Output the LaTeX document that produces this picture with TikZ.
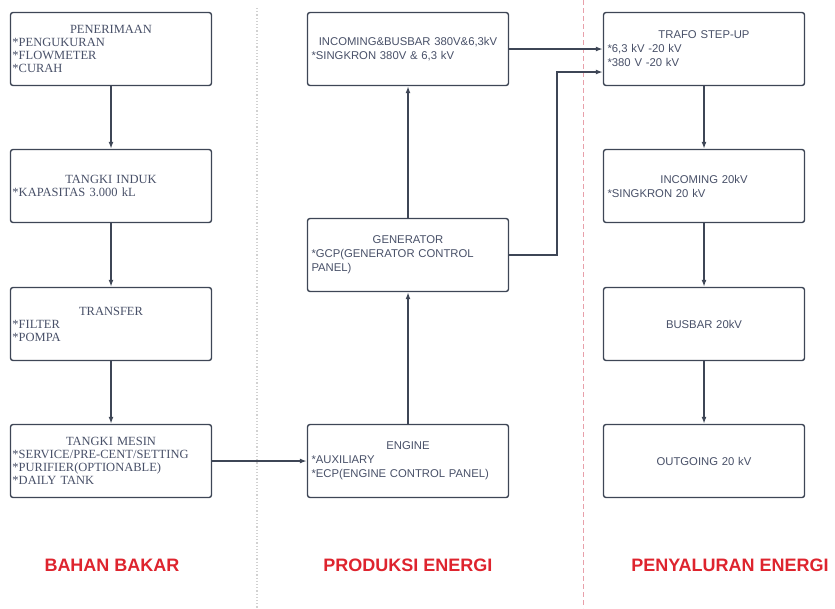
\documentclass[tikz,border=0pt]{standalone}
\usepackage{fontspec}
\setmainfont{Liberation Serif}
\setsansfont{Liberation Sans}
\usetikzlibrary{arrows.meta,calc,positioning}
\definecolor{boxline}{RGB}{62,70,86}
\definecolor{boxtext}{RGB}{72,80,104}
\definecolor{sectred}{RGB}{222,36,46}
\definecolor{sectline}{RGB}{232,160,170}
\newcommand{\ttl}[1]{\makebox[\linewidth][c]{#1}}

\begin{document}
\begin{tikzpicture}[x=1pt,y=-1pt,>={Latex[length=7pt,width=5pt]},
  box/.style={draw=boxline,line width=1.4pt,rounded corners=2.5pt,fill=white,
              minimum height=73pt,text=boxtext,align=left},
  serifbox/.style={box,text width=197pt,inner xsep=2pt,
              font=\fontsize{12.5}{13}\selectfont},
  sansbox/.style={box,text width=193pt,inner xsep=4pt,
              font=\sffamily\fontsize{11.3}{14}\selectfont},
  flow/.style={->,draw=boxline,line width=1.5pt},
  section/.style={font=\sffamily\bfseries\fontsize{18}{20}\selectfont,text=sectred}]
 \useasboundingbox (0,0) rectangle (835,608);
 % section dividers
 \draw[black!18,line width=1.2pt,dotted] (257,8) -- (257,608);
 \draw[sectline,line width=1pt,dash pattern=on 5pt off 3pt] (583,0) -- (583,608);
 % bahan bakar
 \node[serifbox] (terima) at (111,49)
    {\ttl{PENERIMAAN}\\{*}PENGUKURAN\\{*}FLOWMETER\\{*}CURAH};
 \node[serifbox] (induk) at (111,186)
    {\ttl{TANGKI INDUK}\\{*}KAPASITAS 3.000 kL};
 \node[serifbox] (transfer) at (111,324)
    {\ttl{TRANSFER}\\{*}FILTER\\{*}POMPA};
 \node[serifbox] (mesin) at (111,461)
    {\ttl{TANGKI MESIN}\\{*}SERVICE/PRE-CENT/SETTING\\{*}PURIFIER(OPTIONABLE)\\{*}DAILY TANK};
 % produksi energi
 \node[sansbox] (incoming) at (408,49)
    {\ttl{INCOMING\&BUSBAR 380V\&6,3kV}\\{*}SINGKRON 380V \& 6,3 kV};
 \node[sansbox] (generator) at (408,255)
    {\ttl{GENERATOR}\\{*}GCP(GENERATOR CONTROL\\PANEL)};
 \node[sansbox] (engine) at (408,461)
    {\ttl{ENGINE}\\{*}AUXILIARY\\{*}ECP(ENGINE CONTROL PANEL)};
 % penyaluran energi
 \node[sansbox] (trafo) at (704,49)
    {\ttl{TRAFO STEP-UP}\\{*}6,3 kV -20 kV\\{*}380 V -20 kV};
 \node[sansbox] (incoming20) at (704,186)
    {\ttl{INCOMING 20kV}\\{*}SINGKRON 20 kV};
 \node[sansbox] (busbar) at (704,324) {\ttl{BUSBAR 20kV}};
 \node[sansbox] (outgoing) at (704,461) {\ttl{OUTGOING 20 kV}};
 % connectors
 \draw[flow] (terima) -- (induk);
 \draw[flow] (induk) -- (transfer);
 \draw[flow] (transfer) -- (mesin);
 \draw[flow] (mesin) -- (engine);
 \draw[flow] (engine) -- (generator);
 \draw[flow] (generator) -- (incoming);
 \draw[flow] (incoming) -- (trafo);
 \draw[flow] (generator.east) -- ++(48,0) |- ([yshift=-23pt]trafo.west);
 \draw[flow] (trafo) -- (incoming20);
 \draw[flow] (incoming20) -- (busbar);
 \draw[flow] (busbar) -- (outgoing);
 % section titles
 \node[section] (bahan) at (112,565) {BAHAN BAKAR};
 \node[section] (produksi) at (408,565) {PRODUKSI ENERGI};
 \node[section] (salur) at (730,565) {PENYALURAN ENERGI};
\end{tikzpicture}
\end{document}
